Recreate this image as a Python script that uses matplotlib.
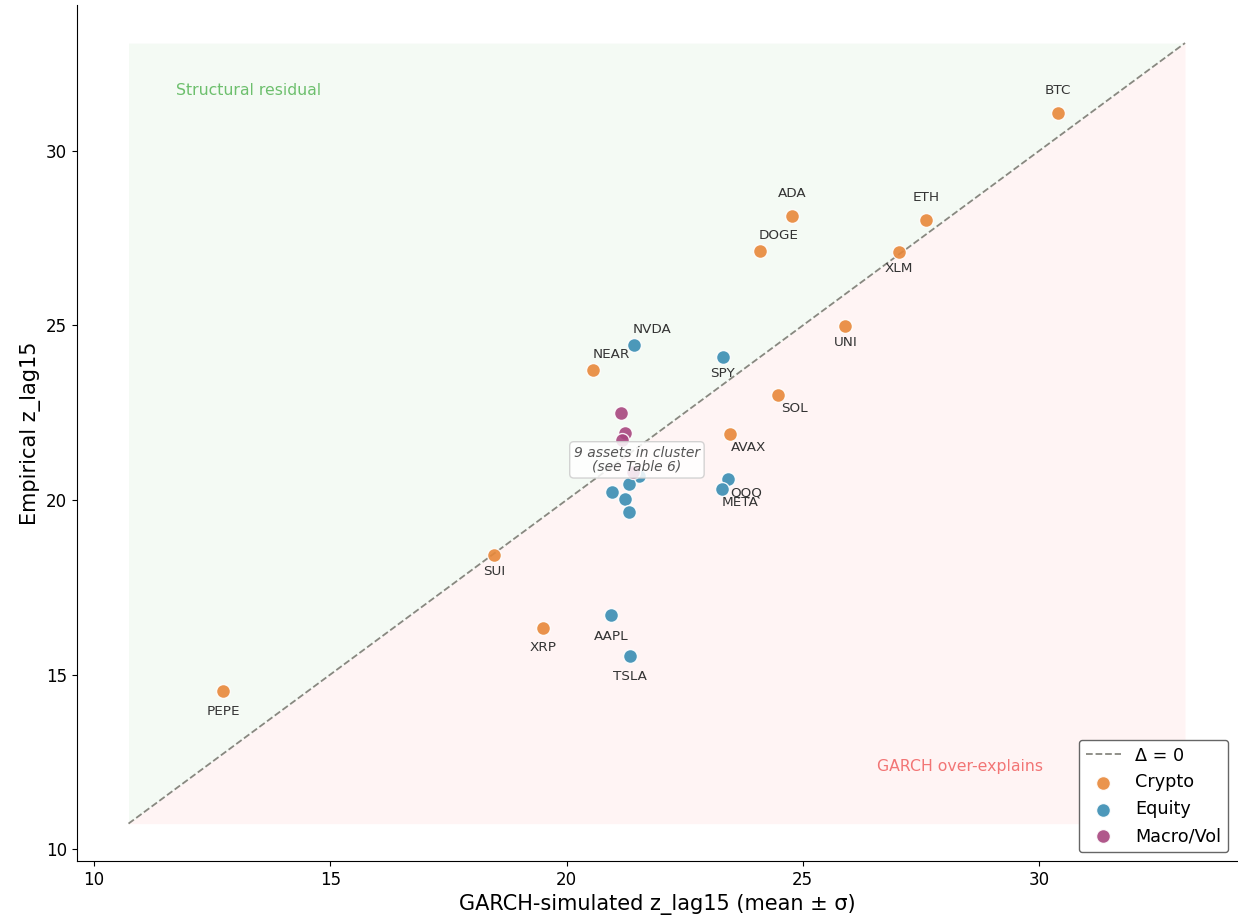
import numpy as np
import matplotlib.pyplot as plt

# GARCH-simulated vs empirical z_lag15 per asset
names = ["BTC", "ADA", "ETH", "DOGE", "XLM", "UNI", "NEAR", "SOL", "AVAX", "SUI", "XRP", "PEPE",
         "NVDA", "SPY", "QQQ", "META", "AAPL", "TSLA",
         "", "", "", "", "", "", "", "", ""]
groups = ["Crypto"] * 12 + ["Equity"] * 6 + ["Macro/Vol"] * 3 + ["Macro/Vol"] + ["Equity"] * 5
sim = [30.40, 24.77, 27.61, 24.10, 27.04, 25.89, 20.56, 24.48, 23.46, 18.47, 19.50, 12.73,
       21.43, 23.31, 23.42, 23.29, 20.94, 21.34,
       21.15, 21.24, 21.17, 21.40, 21.53, 21.32, 20.96, 21.24, 21.32]
emp = [31.09, 28.14, 28.02, 27.13, 27.11, 24.99, 23.72, 23.01, 21.89, 18.42, 16.33, 14.53,
       24.44, 24.10, 20.60, 20.32, 16.70, 15.53,
       22.49, 21.92, 21.72, 20.80, 20.70, 20.46, 20.23, 20.03, 19.66]

# label offsets in points (dx, dy)
offsets = {"BTC": (0, 16), "ADA": (0, 16), "ETH": (0, 16), "DOGE": (13, 11), "XLM": (0, -12),
           "UNI": (1, -12), "NEAR": (13, 11), "SOL": (12, -10), "AVAX": (13, -10), "SUI": (0, -12),
           "XRP": (0, -14), "PEPE": (0, -15), "NVDA": (13, 11), "SPY": (0, -12), "QQQ": (13, -10),
           "META": (13, -10), "AAPL": (0, -15), "TSLA": (0, -15)}

colors = {"Crypto": "#E8883A", "Equity": "#3A8DB3", "Macro/Vol": "#A8467F"}

sim = np.array(sim); emp = np.array(emp); groups = np.array(groups)

lo = min(sim.min(), emp.min()) - 2
hi = max(sim.max(), emp.max()) + 2

fig = plt.figure(figsize=(12.38, 9.23), dpi=100)
ax = fig.add_axes([0.0622, 0.0672, 0.937, 0.9274])

xs = np.array([lo, hi])
ax.fill_between(xs, xs, hi, color="#2ca02c", alpha=0.05, lw=0)
ax.fill_between(xs, lo, xs, color="#ff6b6b", alpha=0.07, lw=0)
ax.plot(xs, xs, ls="--", color="#888880", lw=1.3, label="Δ = 0", zorder=2)

for g in ["Crypto", "Equity", "Macro/Vol"]:
    m = groups == g
    ax.scatter(sim[m], emp[m], s=100, color=colors[g], alpha=0.9, edgecolor="white",
               linewidth=1.0, label=g, zorder=3)

for n, x, y in zip(names, sim, emp):
    if n:
        dx, dy = offsets[n]
        ax.annotate(n, (x, y), xytext=(dx, dy), textcoords="offset points",
                    ha="center", va="center", fontsize=9.7, color="#333333")

ax.text(21.49, 21.15, "9 assets in cluster\n(see Table 6)", ha="center", va="center",
        fontsize=10, style="italic", color="#555555", zorder=4, linespacing=1.0,
        bbox=dict(boxstyle="round,pad=0.3", fc="white", ec="#cccccc", alpha=0.85))

ax.text(lo + 1, hi - 1.35, "Structural residual", color="#6dbf6d", fontsize=11.3,
        ha="left", va="center")
ax.text(hi - 3, lo + 1.65, "GARCH over-explains", color="#f27575", fontsize=11.3,
        ha="right", va="center")

ax.set_xlim(9.64, 34.19)
ax.set_ylim(9.66, 34.18)
ax.set_xticks([10, 15, 20, 25, 30])
ax.set_yticks([10, 15, 20, 25, 30])
ax.tick_params(labelsize=12)
ax.set_xlabel("GARCH-simulated z_lag15 (mean ± σ)", fontsize=15)
ax.set_ylabel("Empirical z_lag15", fontsize=15)
ax.spines["top"].set_visible(False)
ax.spines["right"].set_visible(False)

leg = ax.legend(loc="lower right", fontsize=12.7, frameon=True, framealpha=1)
leg.get_frame().set_edgecolor("#666666")

fig.savefig("out.png", dpi=100)
